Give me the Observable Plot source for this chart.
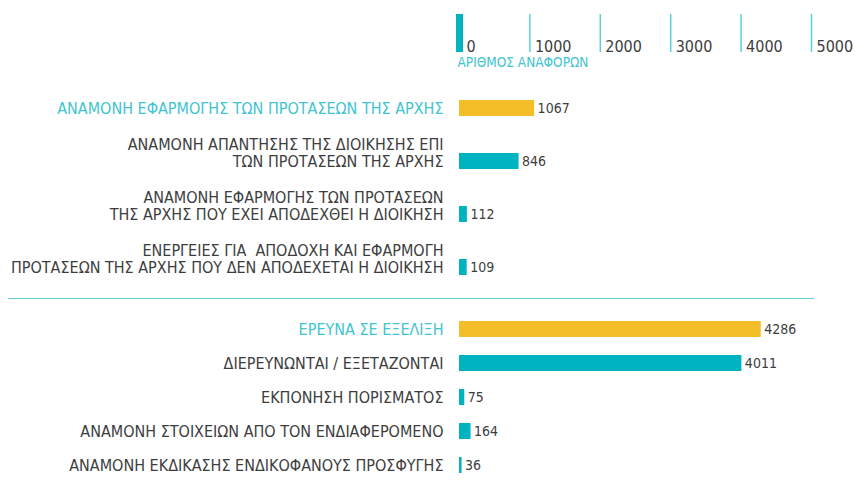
<!DOCTYPE html>
<html><head><meta charset="utf-8">
<script src="https://cdn.jsdelivr.net/npm/d3@7"></script>
<script src="https://cdn.jsdelivr.net/npm/@observablehq/plot@0.6"></script>
<style>body{margin:0;background:#fff} #chart{width:855px} svg{display:block}</style>
</head><body><div id="chart"></div>
<script>
const groupA = [
  "ΑΝΑΜΟΝΗ ΕΦΑΡΜΟΓΗΣ ΤΩΝ ΠΡΟΤΑΣΕΩΝ ΤΗΣ ΑΡΧΗΣ",
  "ΑΝΑΜΟΝΗ ΑΠΑΝΤΗΣΗΣ ΤΗΣ ΔΙΟΙΚΗΣΗΣ ΕΠΙ\nΤΩΝ ΠΡΟΤΑΣΕΩΝ ΤΗΣ ΑΡΧΗΣ",
  "ΑΝΑΜΟΝΗ ΕΦΑΡΜΟΓΗΣ ΤΩΝ ΠΡΟΤΑΣΕΩΝ\nΤΗΣ ΑΡΧΗΣ ΠΟΥ ΕΧΕΙ ΑΠΟΔΕΧΘΕΙ Η ΔΙΟΙΚΗΣΗ",
  "ΕΝΕΡΓΕΙΕΣ ΓΙΑ  ΑΠΟΔΟΧΗ ΚΑΙ ΕΦΑΡΜΟΓΗ\nΠΡΟΤΑΣΕΩΝ ΤΗΣ ΑΡΧΗΣ ΠΟΥ ΔΕΝ ΑΠΟΔΕΧΕΤΑΙ Η ΔΙΟΙΚΗΣΗ"
];
const valuesA = [1067, 846, 112, 109];
const groupB = [
  "ΕΡΕΥΝΑ ΣΕ ΕΞΕΛΙΞΗ",
  "ΔΙΕΡΕΥΝΩΝΤΑΙ / ΕΞΕΤΑΖΟΝΤΑΙ",
  "ΕΚΠΟΝΗΣΗ ΠΟΡΙΣΜΑΤΟΣ",
  "ΑΝΑΜΟΝΗ ΣΤΟΙΧΕΙΩΝ ΑΠΟ ΤΟΝ ΕΝΔΙΑΦΕΡΟΜΕΝΟ",
  "ΑΝΑΜΟΝΗ ΕΚΔΙΚΑΣΗΣ ΕΝΔΙΚΟΦΑΝΟΥΣ ΠΡΟΣΦΥΓΗΣ"
];
const valuesB = [4286, 4011, 75, 164, 36];
const xTicks = [0, 1000, 2000, 3000, 4000, 5000];
const axisTitle = "ΑΡΙΘΜΟΣ ΑΝΑΦΟΡΩΝ";

const FONT = "'DejaVu Sans Condensed', 'DejaVu Sans', sans-serif";
const YELLOW = "#f4be28", TEAL = "#00b3c1", LTEAL = "#3fc4d0", GREY = "#3d3d3d";
const W = 855, ML = 459, MR = 44;

const toRows = (labels, values) => labels.map((label, i) => ({label, value: values[i], total: i === 0}));
const dataA = toRows(groupA, valuesA);
const dataB = toRows(groupB, valuesB);

function barMarks(data) {
  return [
    Plot.barX(data, {x: "value", y: "label", fill: d => d.total ? YELLOW : TEAL}),
    Plot.text(data, {x: "value", y: "label", text: d => String(d.value), textAnchor: "start", dx: 3, fontSize: 14, fill: GREY}),
    Plot.text(data, {x: 0, y: "label", text: "label", textAnchor: "end", dx: -16, lineAnchor: "bottom", dy: 5.8, lineHeight: 1.1, fontSize: 16, fill: d => d.total ? LTEAL : GREY})
  ];
}

const tickText = (ticks, dx) => Plot.axisX({anchor: "top", ticks, tickSize: 0, tickPadding: 0, tickFormat: d => String(d),
  textAnchor: "start", dx, dy: 0, fontSize: 16, fill: GREY, label: null});

const plotA = Plot.plot({
  width: W, height: 296, marginLeft: ML, marginRight: MR, marginTop: 51, marginBottom: 0,
  style: {fontFamily: FONT, background: "#fff", color: GREY},
  x: {domain: [0, 5000]},
  y: {domain: groupA, range: [81, 294], paddingInner: 0.7, paddingOuter: 0.35, axis: null},
  marks: [
    Plot.axisX({anchor: "top", ticks: xTicks.slice(1), tickSize: 38, stroke: "#5ccfd9", strokeWidth: 1.5, fill: "none", label: null}),
    Plot.axisX({anchor: "top", ticks: xTicks.slice(0, 1), tickSize: 38, stroke: TEAL, strokeWidth: 7, fill: "none", label: null}),
    tickText(xTicks.slice(0, 1), 7),
    tickText(xTicks.slice(1), 5),
    Plot.text([axisTitle], {text: d => d, frameAnchor: "top-left", textAnchor: "start", dx: -2, dy: 6, fontSize: 13.5, fill: LTEAL}),
    ...barMarks(dataA)
  ]
});

const plotB = Plot.plot({
  width: W, height: 191, marginLeft: ML, marginRight: MR, marginTop: 2, marginBottom: 0,
  style: {fontFamily: FONT, background: "#fff", color: GREY},
  x: {domain: [0, 5000], axis: null},
  y: {domain: groupB, range: [13.6, 187.4], paddingInner: 0.54, paddingOuter: 0.27, axis: null},
  marks: [
    Plot.frame({anchor: "top", stroke: "#5ccfd9", strokeWidth: 1, insetLeft: -(ML - 8), insetRight: -2}),
    ...barMarks(dataB)
  ]
});

document.getElementById("chart").append(plotA, plotB);
</script>
</body></html>
